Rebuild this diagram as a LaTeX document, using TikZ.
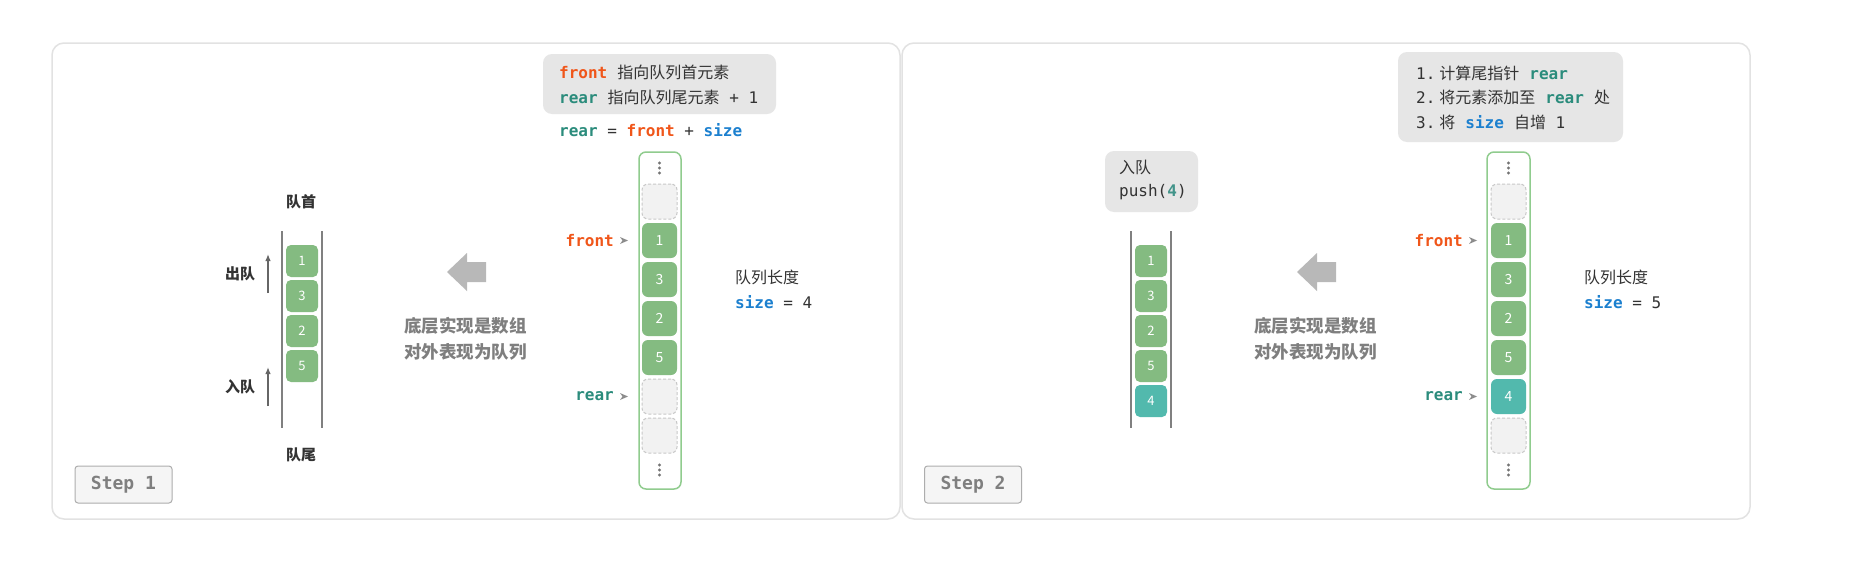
\documentclass[tikz,border=0pt]{standalone}
\usepackage{fontspec}
\setmainfont{Noto Sans CJK SC}
\newfontfamily\mono{DejaVu Sans Mono}
\usetikzlibrary{arrows.meta}
\definecolor{frontc}{HTML}{F0561A}
\definecolor{rearc}{HTML}{2B8C7C}
\definecolor{sizec}{HTML}{1C80CF}
\definecolor{cellg}{HTML}{84BB81}
\definecolor{cellt}{HTML}{52B9AD}
\definecolor{contg}{HTML}{90CC8E}
\definecolor{boxg}{HTML}{E6E6E6}
\definecolor{panelb}{HTML}{E2E2E2}
\definecolor{txt}{HTML}{333333}
\definecolor{emptyf}{HTML}{F2F2F2}
\definecolor{emptyd}{HTML}{C8C8C8}
\definecolor{bigarr}{HTML}{B8B8B8}
\definecolor{notec}{HTML}{7F7F7F}
\newcommand\qfront{{\mono\bfseries\color{frontc}front}}
\newcommand\qrear{{\mono\bfseries\color{rearc}rear}}
\newcommand\qsize{{\mono\bfseries\color{sizec}size}}
\newcommand\qm[1]{{\mono #1}}
\newcommand\qs{\hspace{10pt}}
\begin{document}
\begin{tikzpicture}[x=1pt,y=-1pt,
  panel/.style={draw=panelb,line width=1.5pt,fill=white,rounded corners=12pt},
  stepbox/.style={draw=black!32,fill=black!4,rounded corners=3pt,line width=1pt,minimum width=97pt,minimum height=37pt,inner sep=0,font=\mono\bfseries\fontsize{18}{18}\selectfont,text=notec},
  qcell/.style={rounded corners=5pt,minimum width=32pt,minimum height=32pt,inner sep=0,fill=cellg,text=white,font=\fontsize{13}{13}\selectfont},
  acell/.style={rounded corners=6pt,minimum width=35pt,minimum height=35pt,inner sep=0,fill=cellg,text=white,font=\fontsize{14}{14}\selectfont},
  ecell/.style={rounded corners=6pt,minimum width=35pt,minimum height=35pt,inner sep=0,fill=emptyf,draw=emptyd,dashed,dash pattern=on 3pt off 2pt,line width=1pt},
  wall/.style={draw=black!50,line width=1.2pt},
  cont/.style={draw=contg,line width=1.5pt,fill=white,rounded corners=7pt},
  greybox/.style={fill=boxg,rounded corners=9pt},
  line/.style={anchor=west,inner sep=0,font=\fontsize{16}{20}\selectfont,text=txt},
  qlabel/.style={inner sep=0,font=\bfseries\fontsize{15}{18}\selectfont,text=txt},
  note/.style={anchor=west,inner sep=0,font=\bfseries\fontsize{17.5}{20}\selectfont,text=notec},
  uparr/.style={draw=black!60,line width=1.3pt,-{Latex[length=7pt,width=5.5pt]}},
  ptr/.style={fill=black!45},
  dotc/.style={fill=black!55}
]
\useasboundingbox[fill=white] (0,0) rectangle (1850,584);
% panels
\draw[panel] (52,43) rectangle (900,519);
\draw[panel] (902,43) rectangle (1750,519);
\node[stepbox] (s1) at (123.5,484.5) {Step 1};
\node[stepbox] (s2) at (973,484.5) {Step 2};

% ---------------- panel 1: queue view
\draw[wall] (282,231) -- (282,428);
\draw[wall] (322,231) -- (322,428);
\node[qcell] (q11) at (302,261) {1};
\node[qcell] (q12) at (302,296) {3};
\node[qcell] (q13) at (302,331) {2};
\node[qcell] (q14) at (302,366) {5};
\node[qlabel] (head1) at (301,202) {队首};
\node[qlabel] (tail1) at (301,455) {队尾};
\node[qlabel] (deq1) at (240,274) {出队};
\node[qlabel] (enq1) at (240,387) {入队};
\coordinate (d1s) at (268,293);
\coordinate (d1e) at (268,254);
\coordinate (e1s) at (268,406);
\coordinate (e1e) at (268,367);
\draw[uparr] (d1s) -- (d1e);
\draw[uparr] (e1s) -- (e1e);
% big arrow
\fill[bigarr] (447,272) -- (467,253) -- (467,262) -- (486,262) -- (486,282) -- (467,282) -- (467,291) -- cycle;
\node[note] (n11) at (404,326) {底层实现是数组};
\node[note] (n12) at (404,352) {对外表现为队列};

% ---------------- panel 1: array view
\fill[greybox] (543,54) rectangle (776,114);
\node[line] (b11) at (559,72) {\qfront\qs 指向队列首元素};
\node[line] (b12) at (559,97) {\qrear\qs 指向队列尾元素\qm{ + 1}};
\node[line] (b13) at (559,130) {\qrear\qm{ = }\qfront\qm{ + }\qsize};
\draw[cont] (639,152) rectangle (681,489);
\foreach \y in {163,168,173} \fill[dotc] (659.5,\y) circle (1.7pt);
\foreach \y in {465,470,475} \fill[dotc] (659.5,\y) circle (1.7pt);
\node[ecell] (a10) at (659.5,201.5) {};
\node[acell] (a11) at (659.5,240.5) {1};
\node[acell] (a12) at (659.5,279.5) {3};
\node[acell] (a13) at (659.5,318.5) {2};
\node[acell] (a14) at (659.5,357.5) {5};
\node[ecell] (a15) at (659.5,396.5) {};
\node[ecell] (a16) at (659.5,435.5) {};
\node[line,anchor=east] (f1) at (614,240.5) {\qfront};
\node[line,anchor=east] (r1) at (614,396.5) {\qrear};
\fill[ptr] (620,237) -- (628,240.5) -- (620,244) -- (622.5,240.5) -- cycle;
\fill[ptr] (620,393) -- (628,396.5) -- (620,400) -- (622.5,396.5) -- cycle;
\node[line] (len1) at (735,277) {队列长度};
\node[line] (sz1) at (735,302) {\qsize\qm{ = 4}};

% ---------------- panel 2: queue view
\fill[greybox] (1105,151) rectangle (1198,212);
\node[line] (p21) at (1119,167) {入队};
\node[line] (p22) at (1119,192) {\qm{push(}{\mono\bfseries\color{cellt!80!black}4}\qm{)}};
\draw[wall] (1131,231) -- (1131,428);
\draw[wall] (1171,231) -- (1171,428);
\node[qcell] (q21) at (1151,261) {1};
\node[qcell] (q22) at (1151,296) {3};
\node[qcell] (q23) at (1151,331) {2};
\node[qcell] (q24) at (1151,366) {5};
\node[qcell,fill=cellt] (q25) at (1151,401) {4};
\fill[bigarr] (1297,272) -- (1317,253) -- (1317,262) -- (1336,262) -- (1336,282) -- (1317,282) -- (1317,291) -- cycle;
\node[note] (n21) at (1254,326) {底层实现是数组};
\node[note] (n22) at (1254,352) {对外表现为队列};

% ---------------- panel 2: array view
\fill[greybox] (1398,52) rectangle (1623,142);
\node[line] (b21) at (1416,73) {\qm{1.}\hspace{4pt}计算尾指针\qs\qrear};
\node[line] (b22) at (1416,97) {\qm{2.}\hspace{4pt}将元素添加至\qs\qrear\qs 处};
\node[line] (b23) at (1416,122) {\qm{3.}\hspace{4pt}将\qs\qsize\qs 自增\qm{ 1}};
\draw[cont] (1487,152) rectangle (1530,489);
\foreach \y in {163,168,173} \fill[dotc] (1508.5,\y) circle (1.7pt);
\foreach \y in {465,470,475} \fill[dotc] (1508.5,\y) circle (1.7pt);
\node[ecell] (a20) at (1508.5,201.5) {};
\node[acell] (a21) at (1508.5,240.5) {1};
\node[acell] (a22) at (1508.5,279.5) {3};
\node[acell] (a23) at (1508.5,318.5) {2};
\node[acell] (a24) at (1508.5,357.5) {5};
\node[acell,fill=cellt] (a25) at (1508.5,396.5) {4};
\node[ecell] (a26) at (1508.5,435.5) {};
\node[line,anchor=east] (f2) at (1463,240.5) {\qfront};
\node[line,anchor=east] (r2) at (1463,396.5) {\qrear};
\fill[ptr] (1469,237) -- (1477,240.5) -- (1469,244) -- (1471.5,240.5) -- cycle;
\fill[ptr] (1469,393) -- (1477,396.5) -- (1469,400) -- (1471.5,396.5) -- cycle;
\node[line] (len2) at (1584,277) {队列长度};
\node[line] (sz2) at (1584,302) {\qsize\qm{ = 5}};
\end{tikzpicture}
\end{document}
